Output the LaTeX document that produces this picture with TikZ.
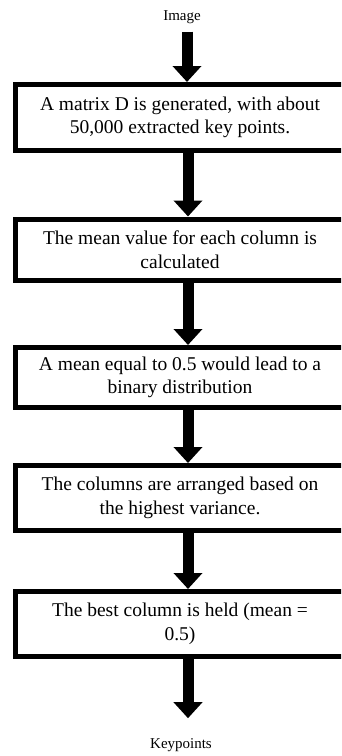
\documentclass[tikz,border=0pt]{standalone}
\usepackage{fontspec}
\setmainfont{Liberation Serif}
\usetikzlibrary{arrows.meta}
\begin{document}
\begin{tikzpicture}[x=1pt,y=-1pt,
  stepbox/.style={draw=black, line width=5pt, fill=white, minimum width=330pt,
    align=center, inner sep=0pt, font=\fontsize{19.5}{23.5}\selectfont},
  label/.style={font=\fontsize{15}{18}\selectfont, inner sep=0pt},
  bigarrow/.style={line width=11pt, -{Triangle[width=28pt,length=16pt]}}]
\clip (0,0) rectangle (341,756);
\fill[white] (0,0) rectangle (341,756);
\node[label] (img) at (182,17) {Image};
\node[stepbox, minimum height=66pt] (b1) at (180,117.5)
  {A matrix D is generated, with about\\50,000 extracted key points.};
\node[stepbox, minimum height=61pt] (b2) at (180,249.5)
  {The mean value for each column is\\calculated};
\node[stepbox, minimum height=60pt] (b3) at (180,377.5)
  {A mean equal to 0.5 would lead to a\\binary distribution};
\node[stepbox, minimum height=65pt] (b4) at (180,498)
  {The columns are arranged based on\\the highest variance.};
\node[stepbox, minimum height=65pt] (b5) at (180,624)
  {The best column is held (mean =\\0.5)};
\node[label] (kp) at (181,745) {Keypoints};
\draw[bigarrow, shorten <=8pt] ([xshift=5pt]img.south) -- ([xshift=5pt]img.south |- b1.north);
\draw[bigarrow] ([xshift=8pt]b1.south) -- ([xshift=8pt]b2.north);
\draw[bigarrow] ([xshift=8pt]b2.south) -- ([xshift=8pt]b3.north);
\draw[bigarrow] ([xshift=8pt]b3.south) -- ([xshift=8pt]b4.north);
\draw[bigarrow] ([xshift=8pt]b4.south) -- ([xshift=8pt]b5.north);
\draw[bigarrow, shorten >=20pt] ([xshift=8pt]b5.south) -- ([xshift=8pt]b5.south |- kp.north);
\end{tikzpicture}
\end{document}
